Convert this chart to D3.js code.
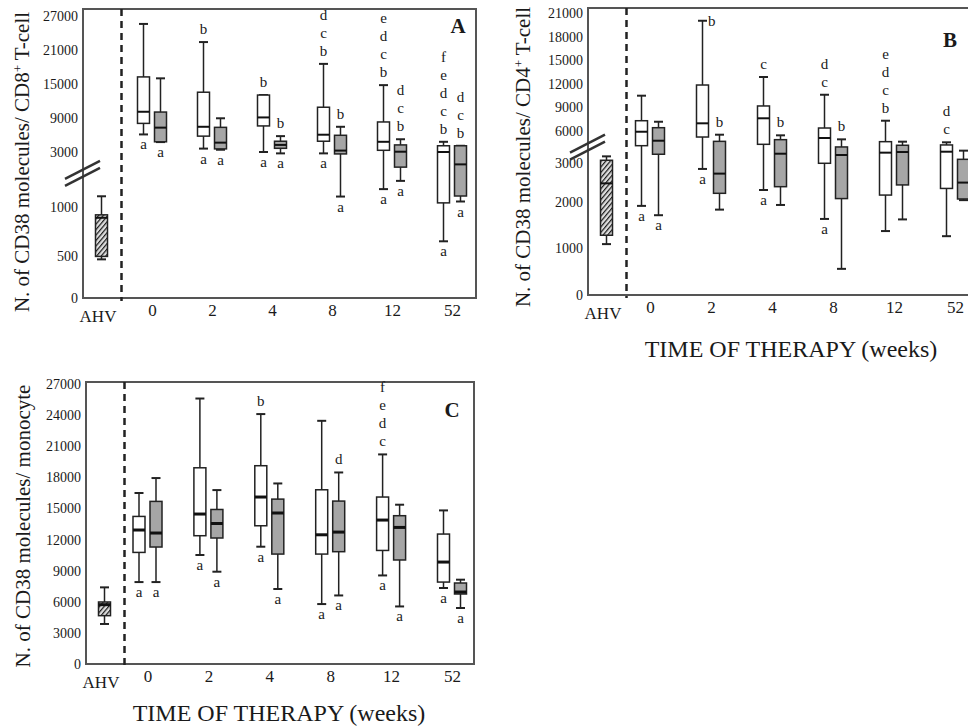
<!DOCTYPE html>
<html>
<head>
<meta charset="utf-8">
<script src="https://cdn.jsdelivr.net/npm/d3@7"></script>
<style>
  body { margin: 0; background: #fff; }
  svg text { font-family: "Liberation Serif", "Times New Roman", serif; fill: #1a1a1a; }
</style>
</head>
<body>
<div id="chart"></div>
<script>
// weeks of therapy (x categories)
var weeks = ["0", "2", "4", "8", "12", "52"];

// each box: [whisker low, q1, median, q3, whisker high]
// Panel A - CD38 molecules / CD8+ T-cell
var cd8White = [[6100, 8050, 10100, 16250, 25600], [3600, 5800, 7450, 13550, 22400], [3000, 7600, 9100, 13050, 13050],
                [2950, 4900, 6050, 10900, 18550], [1650, 3300, 4800, 8300, 14800], [650, 1150, 3000, 4100, 4800]];
var cd8Gray = [[4750, 4800, 7300, 10050, 16000], [3400, 3550, 4650, 7350, 8950], [2950, 3650, 4250, 4900, 5800],
               [1380, 2930, 3250, 5950, 7450], [1950, 2450, 3050, 4250, 5250], [1200, 1400, 2550, 4100, 4100]];
var cd8Ahv = [460, 495, 890, 920, 1390];
var cd8Ticks = [0, 500, 1000, 3000, 9000, 15000, 21000, 27000];
var cd8WhiteAbove = ["", "b", "b", "dcb", "edcb", "fedcb"];
var cd8WhiteBelow = ["a", "a", "a", "a", "a", "a"];
var cd8GrayAbove = ["", "", "b", "b", "dcb", "dcb"];
var cd8GrayBelow = ["a", "a", "a", "a", "a", "a"];

// Panel B - CD38 molecules / CD4+ T-cell
var cd4White = [[1910, 4610, 5930, 7310, 10500], [2840, 5430, 6980, 11860, 20050], [2300, 4740, 7620, 9190, 12880],
                [1630, 2985, 5340, 6380, 10620], [1370, 2170, 3950, 4990, 7310], [1260, 2340, 4040, 4680, 4930]];
var cd4Gray = [[1710, 3800, 5080, 6420, 7180], [1830, 2215, 2720, 5020, 5650], [1930, 2385, 3850, 5180, 5590],
               [560, 2080, 3730, 4490, 5210], [1620, 2430, 4010, 4650, 4990], [2040, 2070, 2490, 3320, 4140]];
var cd4Ahv = [1090, 1280, 2470, 3230, 3600];
var cd4Ticks = [0, 1000, 2000, 3000, 6000, 9000, 12000, 15000, 18000, 21000];
var cd4WhiteAbove = ["", "", "c", "dc", "edcb", "dc"];
var cd4WhiteBeside = ["", "b", "", "", "", ""];
var cd4WhiteBelow = ["a", "a", "a", "a", "", ""];
var cd4GrayAbove = ["", "b", "b", "b", "", ""];
var cd4GrayBelow = ["a", "", "", "", "", ""];

// Panel C - CD38 molecules / monocyte
var monoWhite = [[7900, 10760, 12920, 14230, 16490], [10510, 12370, 14460, 18920, 25600], [11310, 13330, 16100, 19120, 24100],
                 [5780, 10600, 12460, 16800, 23450], [8540, 10950, 13880, 16100, 20210], [7330, 7900, 9830, 12530, 14810]];
var monoGray = [[7900, 11280, 12630, 15680, 17930], [8900, 12150, 13550, 14900, 16770], [7230, 10600, 14560, 15900, 17410],
                [6610, 10830, 12720, 15710, 18470], [5550, 10030, 13170, 14300, 15360], [5400, 6750, 6940, 7810, 8130]];
var monoAhv = [3860, 4660, 5720, 5980, 7390];
var monoTicks = [0, 3000, 6000, 9000, 12000, 15000, 18000, 21000, 24000, 27000];
var monoWhiteAbove = ["", "", "b", "", "fedc", ""];
var monoWhiteBelow = ["a", "a", "a", "a", "a", "a"];
var monoGrayAbove = ["", "", "", "d", "", ""];
var monoGrayBelow = ["a", "a", "a", "a", "a", "a"];

var empty = ["", "", "", "", "", ""];

var W = 968, H = 728;
var serif = "Liberation Serif, Times New Roman, serif";

var svg = d3.select("#chart").append("svg")
  .attr("width", W).attr("height", H)
  .style("display", "block");

svg.append("rect").attr("width", W).attr("height", H).attr("fill", "#fff");

var defs = svg.append("defs");
var pat = defs.append("pattern")
  .attr("id", "hatch")
  .attr("patternUnits", "userSpaceOnUse")
  .attr("width", 3.5).attr("height", 3.5)
  .attr("patternTransform", "rotate(40)");
pat.append("rect").attr("width", 3.5).attr("height", 3.5).attr("fill", "#ddd");
pat.append("line").attr("x1", 0).attr("y1", 0).attr("x2", 0).attr("y2", 3.5)
  .attr("stroke", "#1a1a1a").attr("stroke-width", 2.4);

var panels = [
  {
    name: "A", left: 83, top: 9, right: 476, bottom: 298,
    yDomain: [0, 500, 1000, 3000, 27000], yRange: [298, 256, 207, 152, 16],
    xRange: [152, 452], ticks: cd8Ticks, breakAt: 2350,
    white: cd8White, gray: cd8Gray, ahv: cd8Ahv,
    whiteAbove: cd8WhiteAbove, whiteBelow: cd8WhiteBelow, whiteBeside: empty,
    grayAbove: cd8GrayAbove, grayBelow: cd8GrayBelow,
    title: ["N. of CD38 molecules/ CD8", "+", " T-cell"], titleX: 22, titleY: 162,
    label: [458, 33], medianW: 2
  },
  {
    name: "B", left: 588, top: 8, right: 1000, bottom: 295,
    yDomain: [0, 1000, 2000, 3000, 6000, 21000], yRange: [295, 248.3, 201.7, 162.7, 131, 13.3],
    xRange: [650, 955], ticks: cd4Ticks, breakAt: 4800,
    white: cd4White, gray: cd4Gray, ahv: cd4Ahv,
    whiteAbove: cd4WhiteAbove, whiteBelow: cd4WhiteBelow, whiteBeside: cd4WhiteBeside,
    grayAbove: cd4GrayAbove, grayBelow: cd4GrayBelow,
    title: ["N. of CD38 molecules/ CD4", "+", " T-cell"], titleX: 523, titleY: 157,
    label: [950, 47], medianW: 2,
    xTitle: [791, 357]
  },
  {
    name: "C", left: 86, top: 382, right: 474, bottom: 664,
    yDomain: [0, 27000], yRange: [664, 384],
    xRange: [147.5, 452], ticks: monoTicks, breakAt: null,
    white: monoWhite, gray: monoGray, ahv: monoAhv,
    whiteAbove: monoWhiteAbove, whiteBelow: monoWhiteBelow, whiteBeside: empty,
    grayAbove: monoGrayAbove, grayBelow: monoGrayBelow,
    title: ["N. of CD38 molecules/ monocyte"], titleX: 23, titleY: 526,
    label: [452, 417], medianW: 3,
    xTitle: [279, 721]
  }
];

var boxW = 12, capW = 9, off = 8.5;

function drawBox(g, cx, d, y, fill, medianW) {
  // whisker
  g.append("line").attr("x1", cx).attr("x2", cx)
    .attr("y1", y(d[0])).attr("y2", y(d[4]))
    .attr("stroke", "#222").attr("stroke-width", 1.5);
  [d[0], d[4]].forEach(function(v) {
    g.append("line").attr("x1", cx - capW / 2).attr("x2", cx + capW / 2)
      .attr("y1", y(v)).attr("y2", y(v))
      .attr("stroke", "#222").attr("stroke-width", 2);
  });
  g.append("rect")
    .attr("x", cx - boxW / 2).attr("y", y(d[3]))
    .attr("width", boxW).attr("height", Math.max(1, y(d[1]) - y(d[3])))
    .attr("fill", fill).attr("stroke", "#222").attr("stroke-width", 1.5);
  g.append("line").attr("x1", cx - boxW / 2).attr("x2", cx + boxW / 2)
    .attr("y1", y(d[2])).attr("y2", y(d[2]))
    .attr("stroke", "#111").attr("stroke-width", medianW);
}

function letter(g, x, y, ch) {
  return g.append("text").attr("x", x).attr("y", y)
    .attr("font-family", serif).style("font-size", "15px").text(ch);
}

function drawLetters(g, cx, d, y, above, below, beside) {
  var top = y(d[4]), bot = y(d[0]);
  above.split("").reverse().forEach(function(ch, i) {
    letter(g, cx, top - 8 - i * 18, ch).attr("text-anchor", "middle");
  });
  if (below) letter(g, cx, bot + 15, below).attr("text-anchor", "middle");
  if (beside) letter(g, cx + capW / 2 + 1, top + 5, beside);
}

panels.forEach(function(p) {
  var g = svg.append("g");
  var y = d3.scaleLinear().domain(p.yDomain).range(p.yRange);
  var x = d3.scalePoint().domain(weeks).range(p.xRange);

  // frame
  g.append("rect")
    .attr("x", p.left).attr("y", p.top)
    .attr("width", p.right - p.left).attr("height", p.bottom - p.top)
    .attr("fill", "none").attr("stroke", "#555").attr("stroke-width", 2);

  // y axis labels
  var ya = g.append("g").attr("transform", "translate(" + p.left + ",0)")
    .call(d3.axisLeft(y).tickValues(p.ticks).tickSize(0).tickPadding(5).tickFormat(d3.format("d")));
  ya.attr("font-family", serif);
  ya.select(".domain").remove();
  ya.selectAll("text").style("font-size", "14px").attr("fill", "#333");

  // x axis labels
  var xa = g.append("g").attr("transform", "translate(0," + p.bottom + ")")
    .call(d3.axisBottom(x).tickSize(0).tickPadding(6));
  xa.attr("font-family", serif);
  xa.select(".domain").remove();
  xa.selectAll("text").style("font-size", "17px").attr("fill", "#222");
  g.append("text").attr("x", p.left + 15).attr("y", p.bottom + 24)
    .attr("font-family", serif)
    .attr("text-anchor", "middle").style("font-size", "17px").text("AHV");

  // axis break marks
  if (p.breakAt !== null) {
    var yb = y(p.breakAt);
    [0, 7].forEach(function(dy) {
      g.append("line")
        .attr("x1", p.left - 18).attr("y1", yb + 9 + dy)
        .attr("x2", p.left + 17).attr("y2", yb - 9 + dy)
        .attr("stroke", "#333").attr("stroke-width", 2.5);
    });
  }

  // dashed separator
  g.append("line")
    .attr("x1", p.left + 38.5).attr("x2", p.left + 38.5)
    .attr("y1", p.top).attr("y2", p.bottom + 3)
    .attr("stroke", "#222").attr("stroke-width", 2.5)
    .attr("stroke-dasharray", "7,5");

  // healthy volunteers box
  drawBox(g, p.left + 18.5, p.ahv, y, "url(#hatch)", p.medianW);

  // patient boxes
  weeks.forEach(function(wk, i) {
    var cx = x(wk);
    drawBox(g, cx - off, p.white[i], y, "#fff", p.medianW);
    drawBox(g, cx + off, p.gray[i], y, "#a6a6a6", p.medianW);
    drawLetters(g, cx - off, p.white[i], y, p.whiteAbove[i], p.whiteBelow[i], p.whiteBeside[i]);
    drawLetters(g, cx + off, p.gray[i], y, p.grayAbove[i], p.grayBelow[i], "");
  });

  // panel letter
  g.append("text").attr("x", p.label[0]).attr("y", p.label[1])
    .attr("font-family", serif)
    .attr("text-anchor", "middle").style("font-size", "21px").style("font-weight", "bold")
    .text(p.name);

  // y title
  var t = g.append("text")
    .attr("transform", "translate(" + p.titleX + "," + p.titleY + ") rotate(-90)")
    .attr("font-family", serif)
    .attr("text-anchor", "middle").attr("dy", "0.35em")
    .style("font-size", "21px");
  t.append("tspan").text(p.title[0]);
  if (p.title.length > 1) {
    t.append("tspan").attr("baseline-shift", "super").style("font-size", "13px").text(p.title[1]);
    t.append("tspan").text(p.title[2]);
  }

  if (p.xTitle) {
    g.append("text").attr("x", p.xTitle[0]).attr("y", p.xTitle[1])
      .attr("font-family", serif)
      .attr("text-anchor", "middle").style("font-size", "24px")
      .text("TIME OF THERAPY (weeks)");
  }
});
</script>
</body>
</html>
